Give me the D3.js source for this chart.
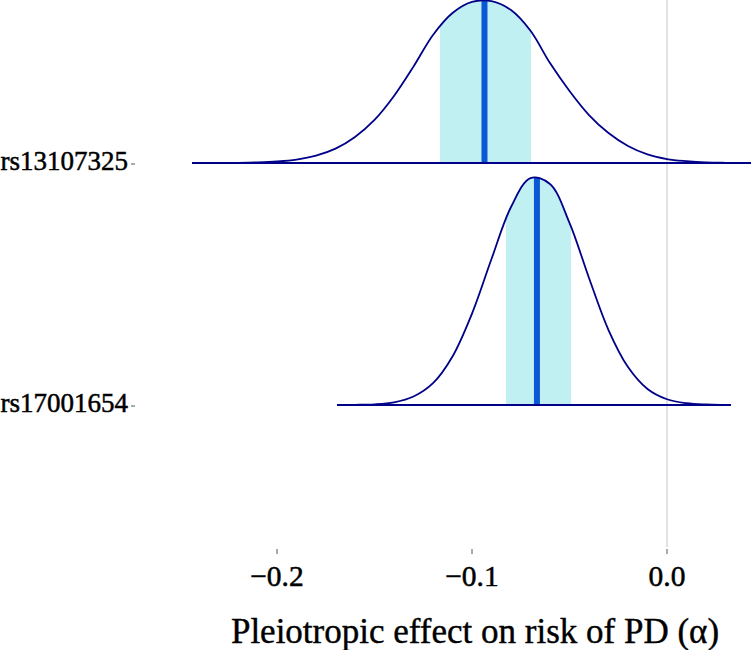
<!DOCTYPE html>
<html><head><meta charset="utf-8">
<script src="https://cdn.jsdelivr.net/npm/d3@7"></script>
<style>body{margin:0;background:#fff}svg{display:block}</style>
</head><body>
<svg id="c" width="751" height="650"></svg>
<script>
const categories = ["rs13107325", "rs17001654"];
const xTicks = [-0.2, -0.1, 0.0];
const xTickLabels = ["\u22120.2", "\u22120.1", "0.0"];
const xLabel = "Pleiotropic effect on risk of PD (\u03b1)";

// density curves (x value, density)
const dens1X = [-0.2435,-0.24,-0.23,-0.22,-0.21,-0.20,-0.19,-0.18,-0.17,-0.16,-0.15,-0.14,-0.13,-0.12,-0.11,-0.10,-0.09,-0.08,-0.07,-0.06,-0.05,-0.04,-0.03,-0.02,-0.01,0.00,0.01,0.02,0.03,0.045];
const dens1Y = [0,0.002,0.005,0.014,0.043,0.107,0.24,0.52,1.02,1.85,3.06,4.76,6.85,9.1,10.66,11.45,11.5,10.87,9.4,7.1,5.12,3.41,2.13,1.21,0.61,0.28,0.13,0.043,0.014,0];
const dens2X = [-0.1692,-0.16,-0.15,-0.14,-0.13,-0.12,-0.11,-0.10,-0.09,-0.08,-0.07,-0.06,-0.05,-0.04,-0.03,-0.02,-0.01,0.00,0.01,0.02,0.03,0.0328];
const dens2Y = [0,0.014,0.05,0.19,0.6,1.55,3.45,6.5,10.38,14.07,16.13,15.71,12.94,9.03,5.33,2.7,1.14,0.41,0.13,0.036,0.007,0];
const medians = [-0.0936, -0.0667];
const intervalLow = [-0.1164, -0.0826];
const intervalHigh = [-0.0697, -0.0492];

const densX = [dens1X, dens2X];
const densY = [dens1Y, dens2Y];

const svg = d3.select("#c");
const x = d3.scaleLinear().domain([-0.2, 0]).range([277, 667]);
const yBand = d3.scalePoint().domain(categories).range([163, 405]);
const h = d3.scaleLinear().domain([0, 1]).range([0, 14.07]);

const fillC = "#c0f0f2", lineC = "#000088", medC = "#0a58d6";
const font = "'Liberation Serif', 'Times New Roman', serif";

// vertical line at 0
svg.append("line").attr("x1", x(0)).attr("x2", x(0)).attr("y1", 0).attr("y2", 547)
  .attr("stroke", "#e2e2e2").attr("stroke-width", 2);

const defs = svg.append("defs");

categories.forEach((cat, i) => {
  const base = yBand(cat);
  const pts = densX[i].map((v, k) => [v, densY[i][k]]);
  const area = d3.area().x(d => x(d[0])).y0(base).y1(d => base - h(d[1])).curve(d3.curveCatmullRom);
  const line = d3.line().x(d => x(d[0])).y(d => base - h(d[1])).curve(d3.curveCatmullRom);
  const clipId = "ci" + i, shapeId = "sh" + i;
  defs.append("clipPath").attr("id", clipId).append("rect")
    .attr("x", x(intervalLow[i])).attr("width", x(intervalHigh[i]) - x(intervalLow[i]))
    .attr("y", 0).attr("height", 650);
  defs.append("clipPath").attr("id", shapeId).append("path").attr("d", area(pts));
  svg.append("path").attr("d", area(pts)).attr("fill", fillC).attr("clip-path", `url(#${clipId})`);
  svg.append("line").attr("x1", x(medians[i])).attr("x2", x(medians[i]))
    .attr("y1", base).attr("y2", base - 300)
    .attr("stroke", medC).attr("stroke-width", 6).attr("clip-path", `url(#${shapeId})`);
  svg.append("path").attr("d", line(pts)).attr("fill", "none").attr("stroke", lineC).attr("stroke-width", 1.8);
  // baseline
  const x0 = i === 0 ? 192 : x(densX[i][0]);
  const x1 = i === 0 ? 751 : x(densX[i][densX[i].length - 1]);
  svg.append("line").attr("x1", x0).attr("x2", x1).attr("y1", base).attr("y2", base)
    .attr("stroke", lineC).attr("stroke-width", 2);
  // y label and tick
  svg.append("text").attr("x", 128).attr("y", base + 7).attr("text-anchor", "end")
    .attr("font-family", font).attr("font-size", 27).attr("fill", "#000")
    .attr("stroke", "#000").attr("stroke-width", 0.5).text(cat);
  svg.append("line").attr("x1", 131).attr("x2", 135).attr("y1", base + 1).attr("y2", base + 1)
    .attr("stroke", "#555").attr("stroke-width", 1);
});

// x axis ticks
xTicks.forEach((t, k) => {
  svg.append("line").attr("x1", x(t)).attr("x2", x(t)).attr("y1", 549).attr("y2", 554)
    .attr("stroke", "#555").attr("stroke-width", 1);
  svg.append("text").attr("x", x(t)).attr("y", 586).attr("text-anchor", "middle")
    .attr("font-family", font).attr("font-size", 29.5).attr("fill", "#000")
    .attr("stroke", "#000").attr("stroke-width", 0.5).text(xTickLabels[k]);
});
svg.append("text").attr("x", 475).attr("y", 643).attr("text-anchor", "middle")
  .attr("font-family", font).attr("font-size", 35).attr("fill", "#000")
  .attr("stroke", "#000").attr("stroke-width", 0.4).text(xLabel);
</script>
</body></html>
